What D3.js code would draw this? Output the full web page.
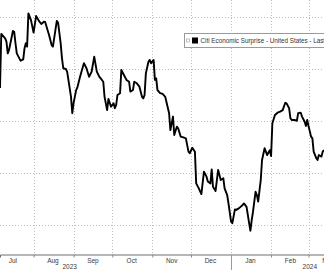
<!DOCTYPE html>
<html><head><meta charset="utf-8">
<script src="https://cdn.jsdelivr.net/npm/d3@7"></script>
<style>html,body{margin:0;padding:0;background:#fff;overflow:hidden}svg{display:block}</style>
</head><body>
<script>
const dates = ["2023-07-06","2023-07-07","2023-07-10","2023-07-11","2023-07-12","2023-07-13","2023-07-16","2023-07-17","2023-07-18","2023-07-19","2023-07-21","2023-07-22","2023-07-24","2023-07-25","2023-07-26","2023-07-27","2023-07-28","2023-07-30","2023-08-01","2023-08-03","2023-08-05","2023-08-07","2023-08-09","2023-08-10","2023-08-12","2023-08-13","2023-08-15","2023-08-16","2023-08-19","2023-08-20","2023-08-22","2023-08-23","2023-08-24","2023-08-26","2023-08-27","2023-08-28","2023-08-30","2023-08-31","2023-09-01","2023-09-03","2023-09-04","2023-09-06","2023-09-09","2023-09-11","2023-09-13","2023-09-15","2023-09-17","2023-09-19","2023-09-21","2023-09-22","2023-09-24","2023-09-25","2023-09-27","2023-09-28","2023-09-30","2023-10-02","2023-10-03","2023-10-04","2023-10-05","2023-10-07","2023-10-08","2023-10-10","2023-10-12","2023-10-14","2023-10-15","2023-10-17","2023-10-18","2023-10-20","2023-10-22","2023-10-24","2023-10-25","2023-10-26","2023-10-27","2023-10-29","2023-10-30","2023-10-31","2023-11-02","2023-11-03","2023-11-04","2023-11-05","2023-11-07","2023-11-09","2023-11-11","2023-11-14","2023-11-15","2023-11-17","2023-11-18","2023-11-20","2023-11-21","2023-11-23","2023-11-25","2023-11-27","2023-11-29","2023-11-30","2023-12-02","2023-12-04","2023-12-05","2023-12-07","2023-12-09","2023-12-11","2023-12-13","2023-12-14","2023-12-16","2023-12-17","2023-12-18","2023-12-20","2023-12-22","2023-12-24","2023-12-26","2023-12-27","2023-12-29","2023-12-30","2024-01-01","2024-01-02","2024-01-04","2024-01-05","2024-01-07","2024-01-10","2024-01-11","2024-01-13","2024-01-15","2024-01-16","2024-01-17","2024-01-18","2024-01-20","2024-01-21","2024-01-22","2024-01-24","2024-01-25","2024-01-27","2024-01-29","2024-01-31","2024-02-01","2024-02-02","2024-02-04","2024-02-06","2024-02-08","2024-02-10","2024-02-12","2024-02-13","2024-02-15","2024-02-16","2024-02-17","2024-02-19","2024-02-21","2024-02-22","2024-02-24","2024-02-25","2024-02-27","2024-02-28","2024-02-29","2024-03-01","2024-03-03","2024-03-04","2024-03-05","2024-03-07","2024-03-08","2024-03-09","2024-03-11","2024-03-12","2024-03-13"];
const values = [52.7,73.5,71.8,70.5,66.0,67.3,74.6,74.3,69.9,66.0,64.1,63.2,63.7,68.0,69.9,68.6,81.4,78.8,74.0,80.4,78.6,77.3,78.2,78.1,74.7,73.1,69.2,68.6,78.5,77.8,69.9,64.2,60.3,60.0,59.0,55.8,49.3,43.0,46.9,51.9,53.0,57.0,62.2,60.3,57.0,59.0,64.7,59.0,57.0,56.4,55.1,49.3,44.2,48.5,45.5,46.8,44.9,46.2,50.0,50.7,59.6,57.7,55.8,55.1,51.3,51.9,55.1,54.5,53.2,49.3,48.7,50.0,58.3,62.8,63.5,62.2,63.5,55.8,56.4,51.9,50.7,50.4,49.3,43.0,36.5,41.7,34.6,37.8,37.2,34.0,33.7,33.3,28.2,27.6,29.7,28.2,16.0,14.1,11.9,20.5,18.6,16.7,16.0,21.4,14.7,13.1,21.2,17.3,18.0,14.1,11.5,8.3,1.3,0.7,6.0,5.8,6.4,7.7,8.3,7.0,0.7,-2.2,1.9,5.1,12.8,11.5,9.0,17.3,25.0,29.5,26.9,28.8,26.5,39.1,42.3,43.2,43.6,44.2,47.0,46.8,44.9,41.0,40.4,40.4,40.1,43.0,43.2,41.7,39.7,38.1,40.4,38.1,34.0,33.3,28.2,25.7,25.0,26.9,26.3,28.2,28.8];
const yTicks = [0, 20, 40, 60, 80];
const monthLabels = ["Jul","Aug","Sep","Oct","Nov","Dec","Jan","Feb","Mar"];
const yearLabels = ["2023","2024"];
const seriesName = "Citi Economic Surprise - United States - Last Price";

const W = 324, H = 270;
const parse = d3.utcParse("%Y-%m-%d");
const data = values.map((v, i) => ({date: parse(dates[i]), v})).filter(d => d.date);

const x = d3.scaleUtc().domain([parse("2023-07-06"), parse("2024-03-13")]).range([0, W]);
const y = d3.scaleLinear().domain([0, 80]).range([225, 17]);
const axisY = 254;

const svg = d3.select("body").append("svg").attr("width", W).attr("height", H)
  .style("font-family", "'Liberation Sans', Arial, sans-serif");

// horizontal gridlines
svg.append("g").selectAll("line").data(yTicks).join("line")
  .attr("x1", 0).attr("x2", W)
  .attr("y1", d => Math.round(y(d)) + 0.5).attr("y2", d => Math.round(y(d)) + 0.5)
  .attr("stroke", "#bdbdbd").attr("stroke-width", 1).attr("stroke-dasharray", "1,2");

// month boundaries
const monthStarts = d3.utcMonth.range(parse("2023-07-01"), parse("2024-03-14"));
svg.append("g").selectAll("line").data(monthStarts).join("line")
  .attr("x1", d => Math.round(x(d)) + 0.5).attr("x2", d => Math.round(x(d)) + 0.5)
  .attr("y1", 0).attr("y2", axisY)
  .attr("stroke", "#bdbdbd").attr("stroke-width", 1).attr("stroke-dasharray", "1,2");

// bottom axis
const xAxis = d3.axisBottom(x).tickValues(monthStarts).tickSize(3).tickFormat("");
const ax = svg.append("g").attr("transform", `translate(0,${axisY + 0.5})`).call(xAxis);
ax.select(".domain").attr("stroke", "#6e6e6e");
ax.selectAll(".tick line").attr("stroke", "#8a8a8a");

// month labels at mid-month
const mids = monthStarts.map(m => d3.utcDay.offset(m, 15));
svg.append("g").selectAll("text").data(mids).join("text")
  .attr("x", d => x(d)).attr("y", 263)
  .attr("text-anchor", "middle").attr("font-size", 6.5).attr("fill", "#3a3a3a")
  .text((d, i) => monthLabels[i]);

// year labels and separator
const yearPos = [parse("2023-08-29"), parse("2024-03-02")];
svg.append("g").selectAll("text").data(yearPos).join("text")
  .attr("x", d => x(d)).attr("y", 269)
  .attr("text-anchor", "middle").attr("font-size", 6.5).attr("fill", "#3a3a3a")
  .text((d, i) => yearLabels[i]);
const yearSep = parse("2024-01-01");
svg.append("line")
  .attr("x1", Math.round(x(yearSep)) + 0.5).attr("x2", Math.round(x(yearSep)) + 0.5)
  .attr("y1", axisY + 1).attr("y2", H)
  .attr("stroke", "#9a9a9a").attr("stroke-width", 1);

// series line
const line = d3.line().x(d => x(d.date)).y(d => y(d.v)).curve(d3.curveLinear);
svg.append("path").datum(data).attr("d", line)
  .attr("fill", "none").attr("stroke", "#000").attr("stroke-width", 1.9)
  .attr("stroke-linejoin", "round");

// legend
const lg = svg.append("g");
lg.append("rect").attr("x", 184.5).attr("y", 33.5).attr("width", 160).attr("height", 14)
  .attr("fill", "#fff").attr("stroke", "#9a9a9a");
lg.append("rect").attr("x", 186.5).attr("y", 39).attr("width", 3).attr("height", 3)
  .attr("fill", "none").attr("stroke", "#aaa").attr("stroke-width", 0.7);
lg.append("rect").attr("x", 192).attr("y", 37.5).attr("width", 6).attr("height", 6).attr("fill", "#000");
lg.append("text").attr("x", 200.5).attr("y", 43.3).attr("font-size", 6.3).attr("fill", "#333")
  .text(seriesName);
</script>
</body></html>
